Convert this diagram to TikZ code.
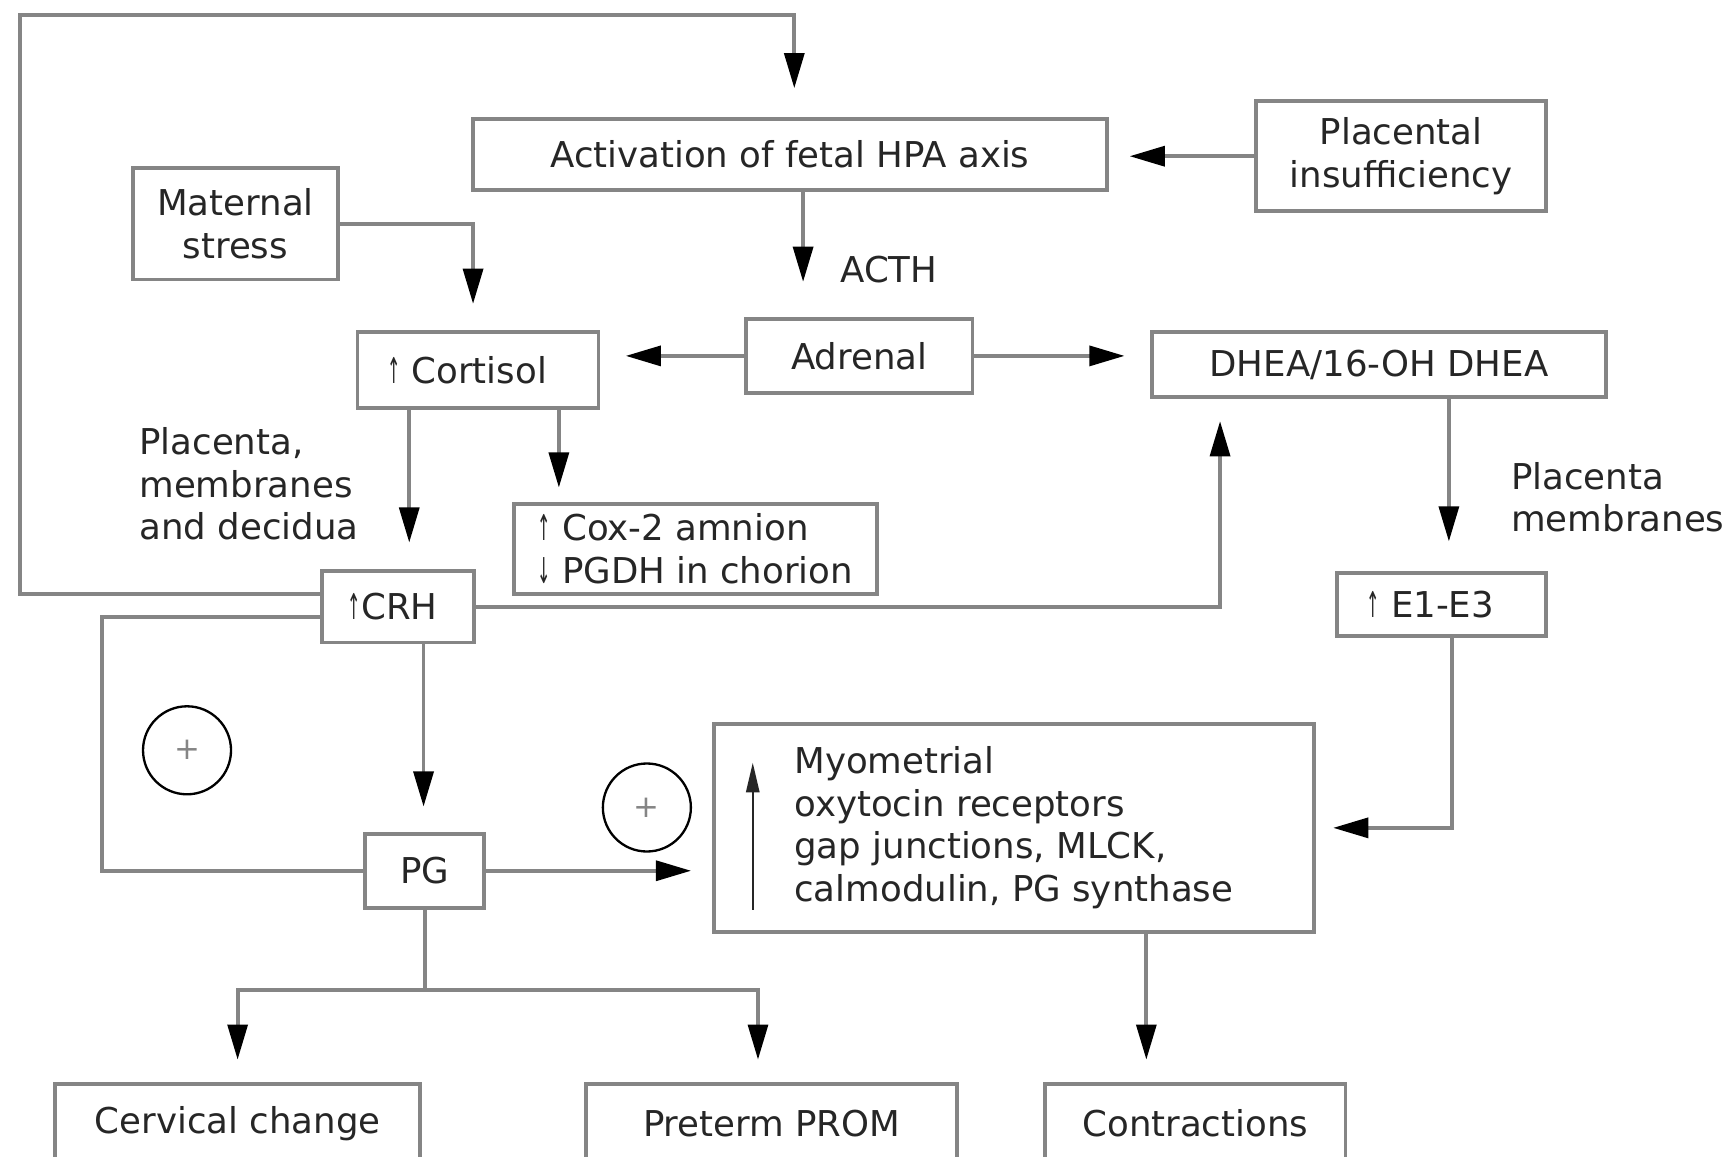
\documentclass[tikz,border=0pt]{standalone}
\usepackage{fontspec}
\setmainfont{DejaVu Sans}
\usetikzlibrary{arrows.meta}
\definecolor{linegray}{HTML}{858585}
\definecolor{textdark}{HTML}{262626}
\newcommand{\upar}{\scalebox{0.45}[1]{↑}}
\newcommand{\dnar}{\scalebox{0.45}[1]{↓}}

\begin{document}
\begin{tikzpicture}[y=-1cm,
    box/.style={draw=linegray,line width=1pt,inner sep=1pt,text=textdark,font=\fontsize{9.2}{11}\selectfont,align=center},
    lbl/.style={inner sep=0pt,text=textdark,font=\fontsize{9.2}{11}\selectfont,align=left},
    line/.style={draw=linegray,line width=1pt},
    arr/.style={line,-{Triangle[length=3.2mm,width=1.8mm,color=black]}},
    plus/.style={circle,draw=black,line width=0.6pt,minimum size=8mm,inner sep=0pt,text=linegray,font=\fontsize{8}{8}\selectfont}]
            \clip (0,0) rectangle (15.68,10.51);
            \fill[white] (0,0) rectangle (15.68,10.51);

            \node[box,minimum width=5.76cm,minimum height=0.65cm] (act) at (7.18,1.405){Activation of fetal HPA axis};
            \node[box,minimum width=2.63cm,minimum height=1.00cm] (plac) at (12.735,1.42){Placental\\insufficiency};
            \node[box,minimum width=1.86cm,minimum height=1.01cm] (mat) at (2.14,2.035){Maternal\\stress};
            \node[box,minimum width=2.06cm,minimum height=0.67cm] (adr) at (7.81,3.235){Adrenal};
            \node[box,minimum width=2.19cm,minimum height=0.69cm] (cort) at (4.345,3.365){\upar\ Cortisol\hspace*{2mm}};
            \node[box,minimum width=4.13cm,minimum height=0.59cm] (dhea) at (12.535,3.315){DHEA/16-OH DHEA};
            \node[box,minimum width=1.38cm,minimum height=0.65cm] (crh) at (3.62,5.515){\upar CRH\hspace*{1mm}};
            \node[box,minimum width=3.30cm,minimum height=0.82cm,align=left] (cox) at (6.32,4.99){\upar\ Cox-2 amnion\\\dnar\ PGDH in chorion};
            \node[box,minimum width=1.90cm,minimum height=0.57cm] (est) at (13.10,5.495){\upar\ E1-E3\hspace*{2mm}};
            \node[box,minimum width=5.45cm,minimum height=1.89cm,align=left] (myo) at (9.215,7.525){Myometrial\\oxytocin receptors\\gap junctions, MLCK,\\calmodulin, PG synthase};
            \node[box,minimum width=1.08cm,minimum height=0.67cm] (pg) at (3.86,7.915){PG};
            \node[box,minimum width=3.32cm,minimum height=0.72cm] (cerv) at (2.16,10.21){Cervical change};
            \node[box,minimum width=3.37cm,minimum height=0.72cm] (prom) at (7.015,10.21){Preterm PROM};
            \node[box,minimum width=2.73cm,minimum height=0.72cm] (contr) at (10.865,10.21){Contractions};

            \node[lbl] (acth) at (8.08,2.45){ACTH};
            \node[lbl,anchor=west] (pmd) at (1.26,4.40){Placenta,\\membranes\\and decidua};
            \node[lbl,anchor=west] (pm) at (13.73,4.52){Placenta\\membranes};
            \node[plus] (plusa) at (1.70,6.82){+};
            \node[plus] (plusb) at (5.88,7.34){+};

            \coordinate (fbcorner) at (0.18,0.14);
            \coordinate (loopcorner) at (0.93,7.915);

            \draw[arr,shorten >=2.6mm] ([yshift=1.15mm]crh.west) -| (fbcorner) -| ([xshift=0.4mm]act.north);
            \draw[arr,shorten >=1.9mm] (plac.west) -- (plac.west -| act.east);
            \draw[arr,shorten >=2.4mm] (mat.east) -| ([xshift=-0.45mm]cort.north);
            \draw[arr,shorten >=3.2mm] ([xshift=1.2mm]act.south) -- ([xshift=1.2mm]act.south |- adr.north);
            \draw[arr,shorten >=2.3mm] (adr.west) -- (adr.west -| cort.east);
            \draw[arr,shorten >=2.3mm] (adr.east) -- (adr.east -| dhea.west);
            \draw[arr,shorten >=2.4mm] ([xshift=-6.25mm]cort.south) -- ([xshift=-6.25mm]cort.south |- crh.north);
            \draw[arr,shorten >=1.3mm] ([xshift=7.35mm]cort.south) -- ([xshift=7.35mm]cort.south |- cox.north);
            \draw[arr,shorten >=2.0mm] (crh.east) -| ([xshift=-14.45mm]dhea.south);
            \draw[arr,shorten >=2.7mm] ([xshift=6.35mm]dhea.south) -- ([xshift=6.35mm]dhea.south |- est.north);
            \draw[arr,shorten >=1.6mm] ([xshift=1mm]est.south) |- (myo.east);
            \draw[line] ([yshift=-0.95mm]crh.west) -| (loopcorner) -- (pg.west);
            \draw[arr,shorten >=2.3mm] ([xshift=2.3mm]crh.south) -- ([xshift=2.3mm]crh.south |- pg.north);
            \draw[arr,shorten >=1.9mm] (pg.east) -- (pg.east -| myo.west);
            \draw[line] (pg.south) -- ++(0,0.73) coordinate (split);
            \draw[arr,shorten >=2.0mm] (split) -| (cerv.north);
            \draw[arr,shorten >=2.0mm] (split) -| ([xshift=-1.25mm]prom.north);
            \draw[arr,shorten >=2.0mm] ([xshift=12.05mm]myo.south) -- ([xshift=12.05mm]myo.south |- contr.north);
            \draw[draw=textdark,line width=0.6pt,-{Triangle[length=2.7mm,width=1.2mm]}] ([xshift=3.7mm,yshift=2.2mm]myo.south west) -- ([xshift=3.7mm,yshift=-3.7mm]myo.north west);
        \end{tikzpicture}
\end{document}
